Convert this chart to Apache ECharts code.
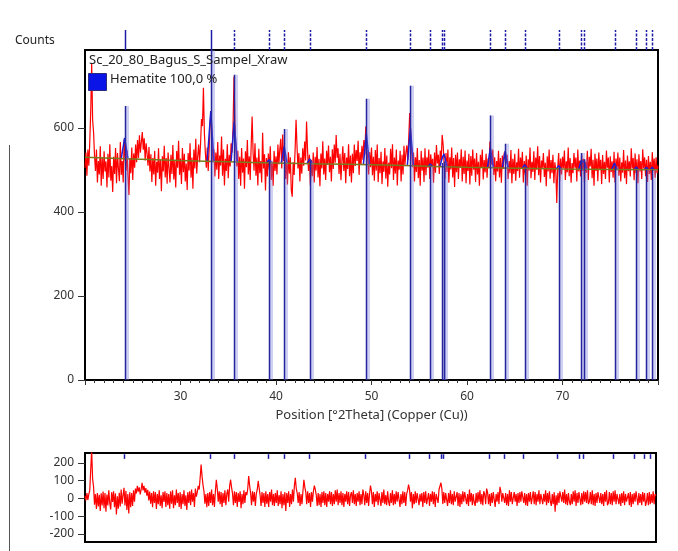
<!DOCTYPE html>
<html><head><meta charset="utf-8">
<script src="https://cdn.jsdelivr.net/npm/echarts@6/dist/echarts.min.js"></script>
<style>html,body{margin:0;padding:0;background:#fff}#chart{width:678px;height:551px}</style>
</head><body><div id="chart"></div>
<script>
// Measured scan, counts per 0.1 deg 2theta step starting at 20.0
const obsStart = 20.0, obsStep = 0.1;
const observed = [
505,541,486,548,510,566,640,752,618,588,
532,497,548,470,521,489,556,462,530,478,
544,496,520,458,538,482,561,474,509,447,
531,490,552,468,540,503,473,566,488,521,
470,572,532,498,546,486,440,528,492,553,
476,539,505,560,518,571,528,582,541,566,
590,548,575,522,563,538,510,554,496,537,
471,528,489,545,462,519,493,551,478,524,
449,532,496,557,482,528,467,541,503,470,
536,490,559,477,521,458,545,505,569,488,
527,466,552,494,538,472,515,452,540,498,
563,481,529,455,548,503,574,491,532,560,
518,562,621,604,695,588,541,505,553,497,
548,612,638,566,518,549,484,541,500,566,
478,534,510,579,486,548,463,526,497,561,
480,536,508,563,541,598,722,612,551,508,
545,478,531,462,552,493,527,455,544,506,
571,489,532,476,558,627,541,498,563,486,
529,463,550,492,521,470,588,503,537,451,
528,484,539,500,556,476,519,462,545,497,
532,489,560,513,549,574,503,584,521,540,
478,527,465,542,491,530,452,436,518,488,
547,619,556,503,540,472,529,491,551,510,
567,522,615,548,497,536,463,524,485,541,
470,531,498,554,482,526,461,539,503,568,
489,527,476,545,512,558,494,531,472,549,
502,560,517,583,529,551,490,538,475,520,
556,497,540,468,529,502,561,485,534,470,
538,492,560,509,547,521,569,488,542,512,
557,524,571,536,603,548,527,489,542,506,
553,487,531,474,547,498,560,471,528,492,
543,466,520,495,552,479,534,460,517,489,
550,504,561,476,529,491,548,463,522,500,
545,472,536,489,557,511,540,558,523,575,
635,590,548,506,541,472,530,495,552,480,
523,462,545,498,529,471,551,487,530,505,
548,478,537,510,526,469,541,493,559,515,
536,490,546,522,583,560,516,478,540,495,
548,469,530,501,553,482,528,459,536,494,
541,478,525,506,549,472,531,490,546,468,
522,497,538,465,533,486,548,500,527,471,
540,489,519,462,536,505,548,477,523,494,
538,481,527,506,567,531,512,548,488,530,
473,521,496,545,482,528,469,534,502,541,
540,515,536,478,521,492,547,468,526,490,
538,474,518,497,550,481,529,503,543,470,
521,489,534,462,525,498,553,480,519,495,
544,476,529,500,556,487,533,470,522,505,
540,483,517,461,532,496,548,479,523,492,
536,468,518,497,421,506,540,472,527,489,
531,503,546,476,520,494,553,485,528,469,
516,492,540,505,529,472,548,496,522,484,
537,498,526,470,519,493,545,476,531,508,
550,480,524,462,538,497,527,473,541,501,
524,466,535,490,519,478,546,505,529,470,
532,495,520,481,543,470,527,499,541,486,
529,472,518,493,547,480,522,466,534,497,
520,484,551,503,528,475,539,492,525,468,
537,496,521,478,549,503,530,485,524,471,
533,490,519,476,542,498,527,481,530,492,
510
];

// Observed minus calculated, per 0.1 deg step starting at 20.0
const diffStart = 20.0, diffStep = 0.1;
const difference = [
15,-12,30,-8,22,45,160,270,110,65,
-35,25,-60,30,-45,20,-70,28,-40,38,
-55,30,-75,22,-40,45,-25,-62,35,-20,
40,-50,28,-90,12,-58,32,-45,50,-30,
18,60,-40,42,-65,25,-85,35,-50,30,
-42,45,-18,55,28,70,38,62,22,50,
88,45,70,32,58,15,48,-12,38,-30,
30,-50,40,-25,35,-60,25,-32,45,-42,
18,-55,35,-20,40,-48,30,-38,25,-58,
40,-30,45,-55,18,-38,50,-25,30,-48,
35,-60,25,-32,45,-42,18,-65,35,-25,
40,-38,50,-18,30,-48,55,10,35,70,
50,115,190,125,75,40,-30,25,-50,30,
-42,35,-25,50,-38,25,-48,40,105,55,
-18,40,-32,35,-48,30,-25,45,-38,25,
50,-18,70,105,62,28,-38,40,-25,35,
-48,30,-20,40,-55,25,-32,45,-25,35,
18,55,125,72,30,-38,40,-18,35,-42,
25,50,98,58,18,-42,35,-25,30,-48,
40,-30,25,-48,35,-18,50,-38,25,-42,
30,-25,45,-42,18,-32,40,-55,25,-38,
35,-70,30,-25,40,-48,25,-32,50,-18,
70,115,55,30,-25,35,-42,25,-32,40,
105,62,35,-32,40,-25,30,-48,35,-18,
40,72,50,18,-42,30,-38,25,-48,35,
-25,40,-38,30,-48,25,-18,40,-32,35,
-42,25,-32,45,-18,50,-38,30,-25,40,
-38,30,-48,25,-18,40,-32,35,-42,18,
35,-25,45,-32,25,-42,30,-18,40,-38,
25,-32,50,18,-38,40,-25,30,-42,25,
72,40,-32,35,-48,25,-18,40,-38,30,
25,-42,35,-25,50,-32,18,-38,40,-18,
-42,30,-25,45,-38,25,-32,40,-18,35,
30,-48,25,-32,40,-25,35,-42,25,45,
78,50,-18,35,-55,25,-32,40,-25,30,
40,-38,25,-18,30,-48,35,-25,40,-32,
-38,30,-42,25,-18,40,-32,35,-48,25,
30,-25,50,40,88,55,-32,35,-25,30,
35,-42,30,-25,45,-32,25,-38,40,-18,
-25,35,-42,30,-48,25,-32,40,-18,35,
35,-32,25,-42,50,-18,30,-38,25,-25,
-42,30,-25,35,-18,45,-32,25,-38,40,
25,-32,55,35,-32,25,-42,30,-25,35,
30,-48,25,-18,35,-32,65,40,-18,30,
40,-25,30,-38,25,-42,45,-18,35,-32,
-32,35,-18,25,-42,30,-25,35,-18,40,
50,-25,30,-38,25,-42,30,-18,35,-32,
-25,40,-32,35,-38,25,-18,45,-32,25,
35,-32,25,-18,45,-38,30,-25,40,-18,
-42,25,-32,35,-75,18,-38,30,-25,40,
40,-18,35,-25,50,-32,25,-38,30,-18,
-38,25,-32,40,-18,45,-42,30,-25,35,
25,-38,30,-32,40,-18,35,-25,45,-32,
-18,35,-32,45,-38,25,-42,30,-25,35,
40,-25,30,-32,25,-42,35,-18,45,-38,
-25,35,-32,30,-38,40,-18,45,-32,25,
35,-32,25,-42,30,-25,40,-38,25,-18,
-25,30,-38,35,-48,25,-32,30,-18,40,
40,-38,30,-25,25,-38,35,-18,30,-42,
-18,30,-38,35,-32,25,-25,40,-32,25,
15
];

// Fitted background [2theta, counts]
const background = [
[20,530],[25,526],[30,522],[35,519],[40,516],[45,514],[50,512],
[55,509],[60,506],[65,504],[70,502],[75,501],[80,500]
];

// Calculated hematite profile around each reflection ('-' breaks the line)
const calculated = [
[23.8,527],[24.15,576],[24.5,526],['-','-'],
[32.8,521],[33.17,640],[33.5,521],['-','-'],
[35.3,520],[35.62,615],[35.95,519],['-','-'],
[39.0,517],[39.28,524],[39.55,517],['-','-'],
[40.55,516],[40.86,556],[41.15,516],['-','-'],
[43.25,515],[43.52,526],[43.8,515],['-','-'],
[49.15,512],[49.46,586],[49.8,512],['-','-'],
[53.75,509],[54.07,600],[54.4,509],['-','-'],
[55.9,508],[56.15,514],[56.4,508],['-','-'],
[57.15,508],[57.43,530],[57.6,538],[57.9,507],['-','-'],
[62.15,506],[62.45,552],[62.75,506],['-','-'],
[63.7,505],[64.0,545],[64.3,505],['-','-'],
[65.8,504],[66.03,512],[66.3,504],['-','-'],
[69.35,502],[69.6,510],[69.85,502],['-','-'],
[71.7,502],[71.96,522],[72.28,518],[72.55,501],['-','-'],
[75.15,501],[75.45,516],[75.7,501],['-','-'],
[77.5,500],[77.72,507],[77.95,500],['-','-'],
[78.55,500],[78.78,506],[79.0,500],['-','-'],
[79.2,500],[79.4,506],[79.6,500]
];

// Hematite reference reflections: position and stick height
const stickPos =    [24.15,33.17,35.62,39.28,40.86,43.52,49.46,54.07,56.15,57.43,57.60,62.45,64.00,66.03,69.60,71.96,72.28,75.45,77.72,78.78,79.40];
const stickHeight = [652,  785,  726,  522,  597,  522,  669,  700,  508,  516,  520,  629,  562,  503,  505,  540,  525,  508,  500,  500,  500];

const yTicksDiff = [-200, -100, 0, 100, 200];

const FONT = 'Noto Sans';
const LABEL = {fontFamily: FONT, fontSize: 12, color: '#333'};

const obsData = observed.map((v, i) => [+(obsStart + i * obsStep).toFixed(2), v]);
const diffData = difference.map((v, i) => [+(diffStart + i * diffStep).toFixed(2), v]);
const stickData = stickPos.map((p, i) => [p, stickHeight[i]]);

// Vertical segment per reflection, from value y0 up to y1 (or the stick height)
function segment(y0, y1, color, width, dashed, shift) {
  return function (params, api) {
    const x = api.value(0);
    const top = y1 === null ? api.value(1) : y1;
    const a = api.coord([x, y0]);
    const b = api.coord([x, top]);
    const px = Math.round(a[0]) + 0.5 + (shift || 0);
    const useDash = dashed && params.dataIndex > 1;
    return {
      type: 'line',
      shape: {x1: px, y1: a[1], x2: px, y2: b[1]},
      style: {stroke: color, lineWidth: width, lineDash: useDash ? [3, 1.5] : null}
    };
  };
}

const chart = echarts.init(document.getElementById('chart'), null, {renderer: 'canvas'});
chart.setOption({
  animation: false,
  backgroundColor: '#fff',
  grid: [
    {left: 85, top: 50, width: 573, height: 330, show: true, borderColor: '#000', borderWidth: 2, backgroundColor: 'transparent'},
    {left: 85, top: 30, width: 573, height: 20},
    {left: 85, top: 453, width: 571, height: 89, show: true, borderColor: '#000', borderWidth: 2, backgroundColor: 'transparent'}
  ],
  xAxis: [
    {
      gridIndex: 0, type: 'value', min: 20, max: 80, interval: 10,
      name: 'Position [°2Theta] (Copper (Cu))', nameLocation: 'middle', nameGap: 29,
      nameTextStyle: {fontFamily: FONT, fontSize: 13, color: '#333'},
      axisLine: {lineStyle: {color: '#000', width: 2}},
      axisTick: {show: true, inside: false, length: 5, lineStyle: {color: '#333'}},
      minorTick: {show: true, splitNumber: 10, length: 3, lineStyle: {color: '#333'}},
      axisLabel: Object.assign({margin: 11, showMinLabel: false, showMaxLabel: false}, LABEL),
      splitLine: {show: false}
    },
    {gridIndex: 1, type: 'value', min: 20, max: 80, show: false},
    {
      gridIndex: 2, type: 'value', min: 20, max: 80,
      axisLine: {onZero: false, lineStyle: {color: '#000', width: 2}},
      axisTick: {show: false}, axisLabel: {show: false}, splitLine: {show: false}
    }
  ],
  yAxis: [
    {
      gridIndex: 0, type: 'value', min: 0, max: 785, interval: 200,
      axisLine: {show: true, lineStyle: {color: '#000', width: 2}},
      axisTick: {show: true, length: 7, lineStyle: {color: '#333'}},
      axisLabel: Object.assign({margin: 11, showMaxLabel: false}, LABEL),
      splitLine: {show: false}
    },
    {gridIndex: 1, type: 'value', min: 0, max: 1, show: false},
    {
      gridIndex: 2, type: 'value', min: -245, max: 255,
      axisLine: {show: true, onZero: false, lineStyle: {color: '#000', width: 2}},
      axisTick: {show: true, length: 7, customValues: yTicksDiff, lineStyle: {color: '#333'}},
      axisLabel: Object.assign({margin: 11, customValues: yTicksDiff}, LABEL),
      splitLine: {show: false}
    }
  ],
  graphic: [
    {type: 'line', silent: true, shape: {x1: 9.5, y1: 145, x2: 9.5, y2: 551}, style: {stroke: '#555', lineWidth: 1}},
    {type: 'text', left: 15, top: 35, style: {text: 'Counts', font: '12px "Noto Sans"', fill: '#222'}},
    {type: 'text', left: 89, top: 54, z: 100, style: {text: 'Sc_20_80_Bagus_S_Sampel_Xraw', font: '13px "Noto Sans"', fill: '#222'}},
    {type: 'rect', left: 88, top: 73, z: 100, shape: {width: 18, height: 17}, style: {fill: '#0a14e6', stroke: '#2a2a80', lineWidth: 1}},
    {type: 'text', left: 110, top: 73, z: 100, style: {text: 'Hematite 100,0 %', font: '13px "Noto Sans"', fill: '#222'}}
  ],
  series: [
    {
      type: 'line', xAxisIndex: 0, yAxisIndex: 0, data: obsData, showSymbol: false, z: 2,
      lineStyle: {color: '#ff0000', width: 1.2}
    },
    {
      type: 'line', xAxisIndex: 0, yAxisIndex: 0, data: calculated, showSymbol: false, z: 3,
      connectNulls: false, lineStyle: {color: '#1f1fd6', width: 1.5}
    },
    {
      type: 'line', xAxisIndex: 0, yAxisIndex: 0, data: background, showSymbol: false, smooth: true, z: 4,
      lineStyle: {color: '#7a7a1c', width: 1.5}
    },
    {
      type: 'custom', xAxisIndex: 0, yAxisIndex: 0, data: stickData, z: 5,
      encode: {x: 0, y: 1}, renderItem: segment(0, null, 'rgba(120,120,220,0.35)', 4, false, 1.5)
    },
    {
      type: 'custom', xAxisIndex: 0, yAxisIndex: 0, data: stickData, z: 6,
      encode: {x: 0, y: 1}, renderItem: segment(0, null, '#25259e', 1.5, false, 0)
    },
    {
      type: 'custom', xAxisIndex: 1, yAxisIndex: 1, data: stickData, z: 6,
      encode: {x: 0}, renderItem: segment(0, 1, '#1c1ca8', 1.5, true, 0)
    },
    {
      type: 'line', xAxisIndex: 2, yAxisIndex: 2, data: diffData, showSymbol: false, z: 2,
      lineStyle: {color: '#ff0000', width: 1.2}
    },
    {
      type: 'custom', xAxisIndex: 2, yAxisIndex: 2, data: stickData, z: 6,
      encode: {x: 0}, renderItem: segment(222, 248, '#1c1ca8', 1.5, false, 0)
    }
  ]
});
</script>
</body></html>
